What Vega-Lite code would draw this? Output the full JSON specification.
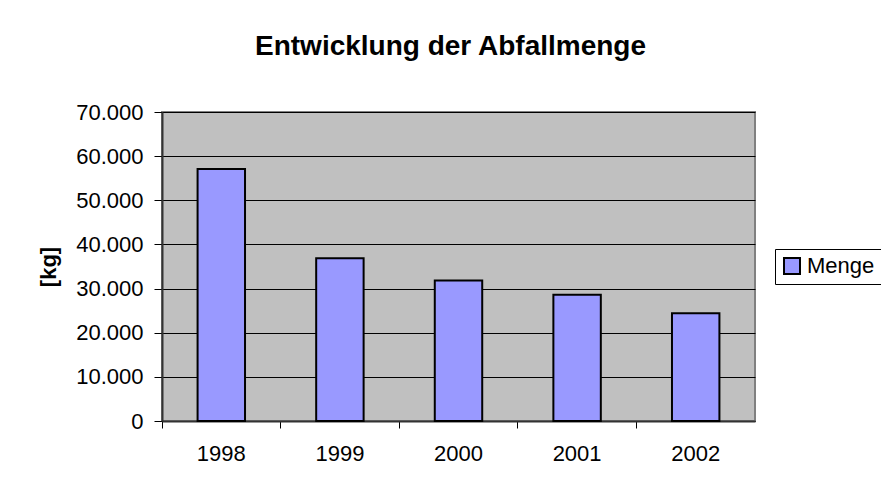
{
  "$schema": "https://vega.github.io/schema/vega-lite/v6.json",
  "autosize": "none",
  "width": 593,
  "height": 309,
  "padding": {"left": 162, "top": 112, "right": 126, "bottom": 71},
  "background": "white",
  "title": {
    "text": "Entwicklung der Abfallmenge",
    "frame": "group",
    "anchor": "middle",
    "dx": -8,
    "fontSize": 28,
    "fontWeight": "bold",
    "font": "Liberation Sans",
    "color": "black",
    "offset": 40
  },
  "data": {
    "values": [
      {"Jahr": "1998", "Menge": 57100, "Serie": "Menge"},
      {"Jahr": "1999", "Menge": 36850, "Serie": "Menge"},
      {"Jahr": "2000", "Menge": 31850, "Serie": "Menge"},
      {"Jahr": "2001", "Menge": 28600, "Serie": "Menge"},
      {"Jahr": "2002", "Menge": 24400, "Serie": "Menge"}
    ]
  },
  "mark": {"type": "bar", "width": {"band": 0.4}, "stroke": "black", "strokeWidth": 2},
  "encoding": {
    "x": {
      "field": "Jahr",
      "type": "ordinal",
      "scale": {"paddingInner": 0, "paddingOuter": 0},
      "axis": {
        "title": null,
        "labelAngle": 0,
        "bandPosition": 0,
        "labelOffset": 0,
        "labelFontSize": 22,
        "labelPadding": 15,
        "tickSize": 7,
        "tickColor": "black",
        "domainColor": "#333333",
        "domainWidth": 2,
        "grid": false
      }
    },
    "y": {
      "field": "Menge",
      "type": "quantitative",
      "scale": {"domain": [0, 70000], "nice": false},
      "axis": {
        "title": "[kg]",
        "titleFontSize": 22,
        "titleFontWeight": "bold",
        "titlePadding": 15,
        "format": ",d",
        "values": [0, 10000, 20000, 30000, 40000, 50000, 60000, 70000],
        "labelFontSize": 22,
        "labelPadding": 11,
        "tickSize": 8,
        "tickColor": "black",
        "domainColor": "#333333",
        "domainWidth": 2,
        "grid": true,
        "gridColor": "black",
        "gridWidth": 1
      }
    },
    "color": {
      "field": "Serie",
      "type": "nominal",
      "scale": {"range": ["#9999FF"]},
      "legend": {
        "title": null,
        "orient": "none",
        "legendX": 613,
        "legendY": 137,
        "strokeColor": "black",
        "fillColor": "white",
        "padding": 6,
        "symbolType": "square",
        "symbolSize": 256,
        "symbolStrokeColor": "black",
        "symbolStrokeWidth": 2,
        "labelFontSize": 22,
        "labelOffset": 4,
        "labelColor": "black"
      }
    }
  },
  "config": {
    "font": "Liberation Sans",
    "locale": {
      "number": {"decimal": ",", "thousands": ".", "grouping": [3], "currency": ["", " €"]}
    },
    "view": {"fill": "#C0C0C0", "stroke": "#808080", "strokeWidth": 2},
    "axis": {"labelColor": "black", "titleColor": "black"}
  }
}
